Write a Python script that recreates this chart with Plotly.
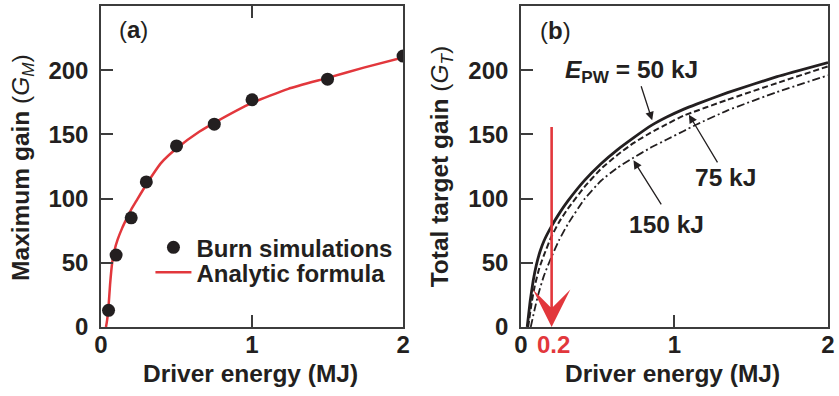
import plotly.graph_objects as go

# ---------------- data: panel (a) ----------------
sim_energy = [0.05, 0.1, 0.2, 0.3, 0.5, 0.75, 1.0, 1.5, 2.0]
sim_gain = [13, 56, 85, 113, 141, 158, 177, 193, 211]

fit_energy = [0.033, 0.04, 0.048, 0.06, 0.074, 0.09, 0.11, 0.14, 0.168, 0.2,
              0.233, 0.3, 0.4, 0.5, 0.65, 0.75, 1.0, 1.24, 1.5, 1.74, 2.0]
fit_gain = [0, 5, 13, 33, 50, 60, 68, 77, 84, 91.5,
            98, 111, 128, 139, 152, 159, 174.5, 185.5, 194, 202, 210]

# ---------------- data: panel (b) ----------------
e50_energy = [0.041, 0.06, 0.08, 0.1, 0.125, 0.15, 0.197, 0.25, 0.305, 0.413, 0.52, 0.628,
              0.735, 0.85, 0.95, 1.058, 1.144, 1.346, 1.668, 2.0]
e50_gain = [0, 20, 36, 48, 59, 67, 78, 88.5, 98, 114, 127, 138,
            147.5, 157, 163.5, 169.5, 173.6, 182.5, 195, 206]

e75_energy = [0.047, 0.07, 0.09, 0.12, 0.15, 0.197, 0.25, 0.305, 0.413, 0.52, 0.628, 0.735,
              0.843, 0.95, 1.058, 1.346, 1.668, 2.0]
e75_gain = [0, 19, 32, 46, 56, 70, 82, 92, 109, 123, 134, 143.4,
            151.2, 158, 164.5, 177, 190, 203]

e150_energy = [0.064, 0.09, 0.112, 0.15, 0.197, 0.25, 0.305, 0.413, 0.52, 0.628, 0.725, 0.843, 0.95,
               1.058, 1.144, 1.346, 1.668, 2.0]
e150_gain = [0, 14, 25, 40, 54, 68, 80, 99.5, 113.7, 124, 131.3, 139.5, 146,
             152.5, 157.7, 168.7, 183, 196]

x_ticks = [0, 1, 2]
y_ticks = [0, 50, 100, 150, 200]
marked_energy = 0.2
marked_top = 157

FONT = "Liberation Sans, Arial, Helvetica, sans-serif"
INK = "#231f20"
RED = "#e2373c"
AX = "#3c3c3c"

fig = go.Figure()

fig.add_trace(go.Scatter(x=fit_energy, y=fit_gain, mode="lines", name="<b>Analytic formula</b>",
                         line=dict(color=RED, width=2.5, shape="spline", smoothing=0.5),
                         xaxis="x", yaxis="y", legend="legend2"))
fig.add_trace(go.Scatter(x=sim_energy, y=sim_gain, mode="markers", name="<b>Burn simulations</b>",
                         marker=dict(color=INK, size=13), xaxis="x", yaxis="y", legend="legend"))

fig.add_trace(go.Scatter(x=e150_energy, y=e150_gain, mode="lines", showlegend=False,
                         line=dict(color=INK, width=1.8, dash="8px,3px,2px,3px", shape="spline", smoothing=0.4),
                         xaxis="x2", yaxis="y2"))
fig.add_trace(go.Scatter(x=e75_energy, y=e75_gain, mode="lines", showlegend=False,
                         line=dict(color=INK, width=2, dash="6px,3px", shape="spline", smoothing=0.4),
                         xaxis="x2", yaxis="y2"))
fig.add_trace(go.Scatter(x=e50_energy, y=e50_gain, mode="lines", showlegend=False,
                         line=dict(color=INK, width=2.8, shape="spline", smoothing=0.4),
                         xaxis="x2", yaxis="y2"))

tickfont = dict(family=FONT, size=24, color=INK, weight="bold")
common_x = dict(range=[0, 2], tickvals=x_ticks, ticktext=["%g" % v for v in x_ticks],
                ticks="inside", ticklen=12, tickwidth=1.5, tickcolor=AX,
                showline=True, linecolor=AX, linewidth=1.5, showgrid=False, zeroline=False,
                tickfont=tickfont, ticklabelstandoff=-5, fixedrange=True)
common_y = dict(range=[0, 250], tickvals=y_ticks, ticktext=["%g" % v for v in y_ticks],
                ticks="inside", ticklen=12, tickwidth=1.5, tickcolor=AX,
                showline=True, linecolor=AX, linewidth=1.5, showgrid=False, zeroline=False,
                tickfont=tickfont, ticklabelstandoff=6, mirror=True, fixedrange=True)

legfont = dict(family=FONT, size=24, color=INK, weight="bold")
fig.update_layout(
    width=839, height=396,
    margin=dict(l=101, r=4, t=4, b=69),
    paper_bgcolor="white", plot_bgcolor="white",
    font=dict(family=FONT, color=INK),
    xaxis=dict(domain=[0, 0.4155], anchor="y", mirror="ticks", **common_x),
    yaxis=dict(domain=[0, 1], anchor="x", **common_y),
    xaxis2=dict(domain=[0.5776, 1], anchor="y2", mirror=True, **common_x),
    yaxis2=dict(domain=[0, 1], anchor="x2", **common_y),
    legend=dict(x=0.068, y=0.247, xanchor="left", yanchor="middle", bgcolor="rgba(0,0,0,0)",
                font=legfont, itemwidth=36),
    legend2=dict(x=0.068, y=0.169, xanchor="left", yanchor="middle", bgcolor="rgba(0,0,0,0)",
                 font=legfont, itemwidth=36),
)

ann = []
tf = dict(family=FONT, size=24.5, color=INK, weight="bold")
tfn = dict(family=FONT, size=24.5, color=INK)
# axis titles
ann.append(dict(xref="paper", yref="paper", x=0.2057, y=-0.1455, text="Driver energy (MJ)",
                showarrow=False, xanchor="center", yanchor="middle", font=tf))
ann.append(dict(xref="paper", yref="paper", x=0.786, y=-0.1455, text="Driver energy (MJ)",
                showarrow=False, xanchor="center", yanchor="middle", font=tf))
ann.append(dict(xref="paper", yref="paper", x=-0.1084, y=0.4963, textangle=-90,
                text="<b>Maximum gain</b> (<i>G<sub>M</sub></i>)",
                showarrow=False, xanchor="center", yanchor="middle", font=tfn))
ann.append(dict(xref="paper", yref="paper", x=0.4684, y=0.499, textangle=-90,
                text="<b>Total target gain</b> (<i>G<sub>T</sub></i>)",
                showarrow=False, xanchor="center", yanchor="middle", font=tfn))
# panel labels
ann.append(dict(xref="paper", yref="paper", x=0.045, y=0.926, text="(<b>a</b>)",
                showarrow=False, xanchor="center", yanchor="middle", font=dict(family=FONT, size=24, color=INK)))
ann.append(dict(xref="paper", yref="paper", x=0.6253, y=0.9226, text="(<b>b</b>)",
                showarrow=False, xanchor="center", yanchor="middle", font=dict(family=FONT, size=24, color=INK)))
# curve labels
ann.append(dict(xref="x2", yref="y2", x=0.271, y=199, text="<i>E</i><sub>PW</sub> = 50 kJ",
                showarrow=False, xanchor="left", yanchor="middle", font=tf))
ann.append(dict(xref="x2", yref="y2", x=1.335, y=116.8, text="75 kJ",
                showarrow=False, xanchor="center", yanchor="middle", font=tf))
ann.append(dict(xref="x2", yref="y2", x=0.948, y=79.6, text="150 kJ",
                showarrow=False, xanchor="center", yanchor="middle", font=tf))
# pointer arrows
for (hx, hy, tx, ty) in [(0.855, 161, 0.78, 188.7), (1.094, 165.4, 1.286, 127), (0.733, 129.8, 0.92, 94.3)]:
    ann.append(dict(xref="x2", yref="y2", axref="x2", ayref="y2", x=hx, y=hy, ax=tx, ay=ty,
                    text="", showarrow=True, arrowhead=2, arrowsize=1.3, arrowwidth=1.3, arrowcolor=INK))
# red arrow and label
ann.append(dict(xref="x2", yref="y2", axref="x2", ayref="y2", x=marked_energy, y=0, ax=marked_energy, ay=marked_top,
                text="", showarrow=True, arrowhead=3, arrowsize=2.4, arrowwidth=2.6, arrowcolor=RED))
ann.append(dict(xref="x2", yref="paper", x=0.212, y=-0.0545, text="0.2",
                showarrow=False, xanchor="center", yanchor="middle",
                font=dict(family=FONT, size=24, color=RED, weight="bold")))
fig.update_layout(annotations=ann)

fig.write_html("out.html")
